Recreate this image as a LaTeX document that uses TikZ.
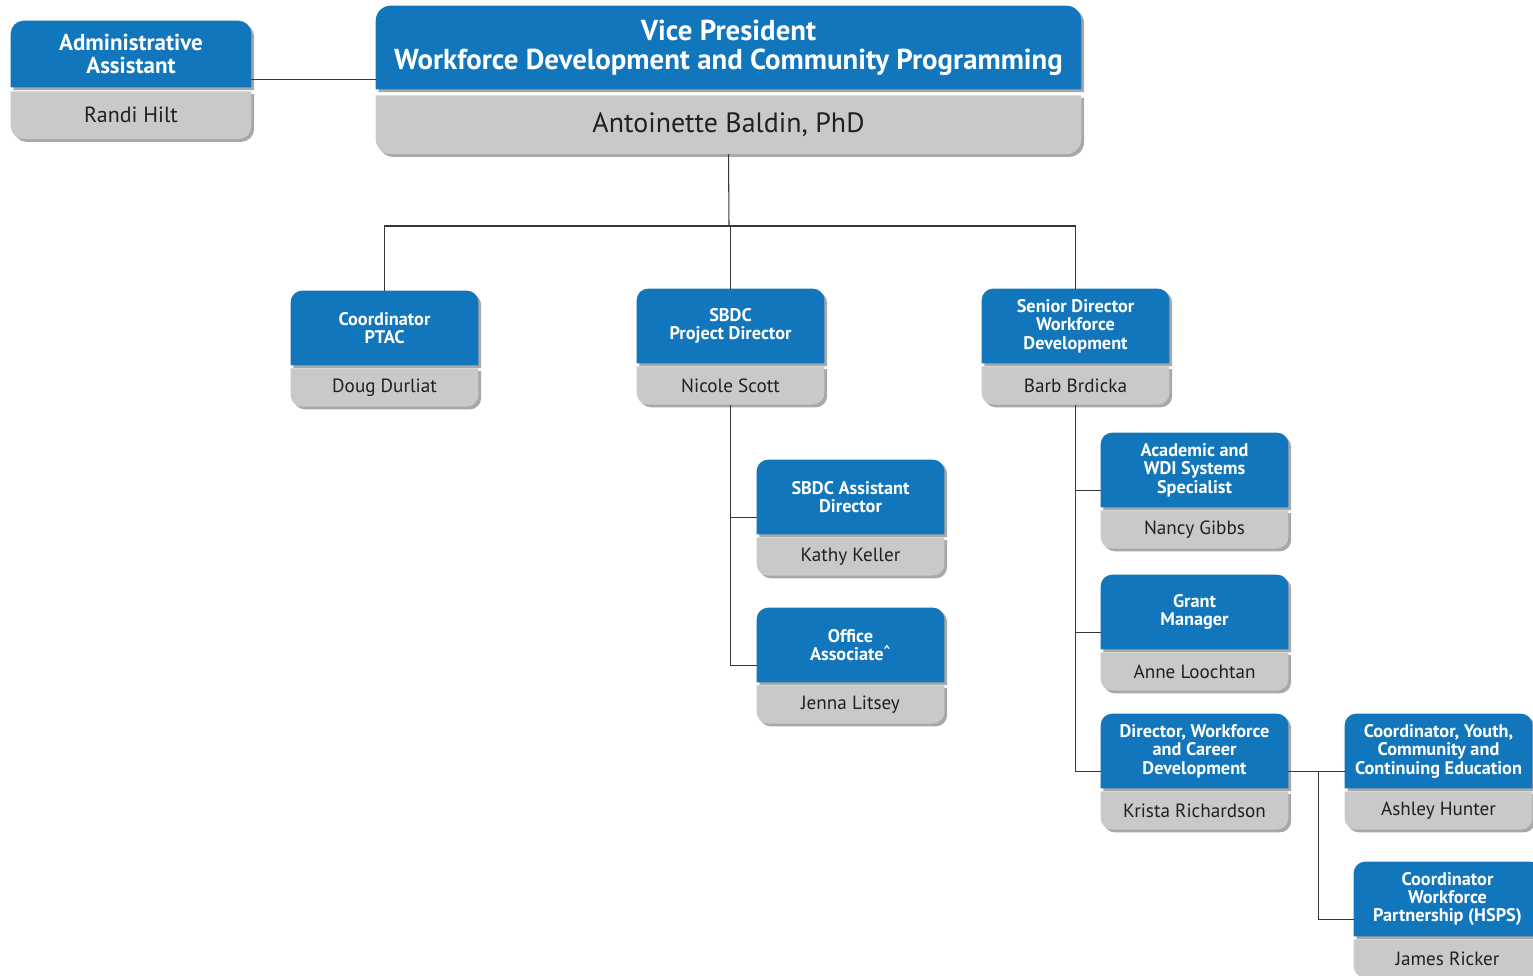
\documentclass[tikz,border=0pt]{standalone}
\usepackage{fontspec}
\setmainfont{PT Sans}
\usepackage{xcolor}
\usetikzlibrary{positioning,calc,backgrounds,shadows}
\definecolor{cardblue}{RGB}{17,118,188}
\definecolor{cardgray}{RGB}{200,201,203}
\definecolor{nametext}{RGB}{35,31,32}
\definecolor{linegray}{RGB}{55,55,55}
\definecolor{shadowgray}{RGB}{110,110,110}
\newcommand\orgcard[3]{%
  \fill[cardblue, drop shadow={shadow xshift=1.6pt, shadow yshift=-1.6pt, fill=shadowgray, opacity=0.6}]
    (#1.south west) -- ([yshift=-#3]#1.north west) arc[start angle=180, end angle=90, radius=#3]
    -- ([xshift=-#3]#1.north east) arc[start angle=90, end angle=0, radius=#3] -- (#1.south east) -- cycle;
  \fill[cardgray, drop shadow={shadow xshift=1.6pt, shadow yshift=-1.6pt, fill=shadowgray, opacity=0.6}]
    (#2.north west) -- (#2.north east) -- ([yshift=#3]#2.south east) arc[start angle=0, end angle=-90, radius=#3]
    -- ([xshift=#3]#2.south west) arc[start angle=270, end angle=180, radius=#3] -- cycle;
}
\tikzset{
  ttl/.style={text=white, font=\bfseries\fontsize{10.4}{10.5}\selectfont, align=center,
    minimum width=3.74cm, minimum height=1.48cm, inner sep=0pt},
  nm/.style={text=nametext, font=\fontsize{10.9}{12}\selectfont,
    minimum width=3.74cm, minimum height=0.75cm, inner sep=0pt},
  conn/.style={draw=linegray, line width=0.6pt}
}

\begin{document}
\begin{tikzpicture}[x=0.02cm, y=0.02cm]
    \useasboundingbox (0,0) rectangle (1533,-975);
    %固定(useasboundingbox)画面大小
    \node[ttl, font=\bfseries\fontsize{16.4}{16.4}\selectfont, minimum width=14.1cm, minimum height=1.66cm] (vp) at (728.5,-47.5) {Vice President\\Workforce Development and Community Programming};
    \node[nm, font=\fontsize{15.9}{18}\selectfont, minimum width=14.1cm, minimum height=1.16cm, below=0.12cm of vp] (vp-nm) {Antoinette Baldin, PhD};
    %副校长(vp)及其姓名(vp-nm)
    \node[ttl, font=\bfseries\fontsize{13.1}{13.6}\selectfont, minimum width=4.8cm, minimum height=1.32cm] (aa) at (131,-54) {Administrative\\Assistant};
    \node[nm, font=\fontsize{12.5}{14}\selectfont, minimum width=4.8cm, minimum height=0.94cm, below=0.08cm of aa] (aa-nm) {Randi Hilt};
    \coordinate (aa-e) at ($(aa.north east)!0.5!(aa-nm.south east)$);
    %助理(aa),右侧连接点(aa-e)
    \foreach \n/\x/\y/\t/\p in {
        ptac/384.5/328/{Coordinator\\PTAC}/{Doug Durliat},
        pd/730.5/326/{SBDC\\Project Director}/{Nicole Scott},
        sd/1075.5/326/{Senior Director\\Workforce\\Development}/{Barb Brdicka},
        ad/850.5/497/{SBDC Assistant\\Director}/{Kathy Keller},
        oa/850.5/645/{Office\\Associate\textsuperscript{\textasciicircum}}/{Jenna Litsey},
        wdi/1194.5/470/{Academic and\\WDI Systems\\Specialist}/{Nancy Gibbs},
        gm/1194.5/612/{Grant\\Manager}/{Anne Loochtan},
        dwcd/1194.5/751/{Director, Workforce\\and Career\\Development}/{Krista Richardson},
        cy/1438.5/751/{Coordinator, Youth,\\Community and\\Continuing Education}/{Ashley Hunter},
        cwp/1447.5/899/{Coordinator\\Workforce\\Partnership (HSPS)}/{James Ricker}}
    {
        \node[ttl] (\n) at (\x,-\y) {\t};
        \node[nm, below=0.06cm of \n] (\n-nm) {\p};
        \coordinate (\n-w) at ($(\n.north west)!0.5!(\n-nm.south west)$);
        \coordinate (\n-e) at ($(\n.north east)!0.5!(\n-nm.south east)$);
    }
    %各职位(\n)、姓名(\n-nm)及左右连接点(\n-w, \n-e)
    \begin{scope}[on background layer]
        \orgcard{vp}{vp-nm}{8.5pt}
        \orgcard{aa}{aa-nm}{7.4pt}
        \foreach \n in {ptac,pd,sd,ad,oa,wdi,gm,dwcd,cy,cwp} {\orgcard{\n}{\n-nm}{6.5pt}}
    \end{scope}
    %背景层(on background layer)绘制蓝色和灰色卡片
    \draw[conn] (aa-e) -- (aa-e -| vp.west);
    \coordinate (bus) at (729,-226);
    \draw[conn] (vp-nm.south) -- (bus);
    \draw[conn] (ptac.north) |- (bus) -| (sd.north);
    \draw[conn] (pd.north) |- (bus);
    %第一层连线
    \draw[conn] (pd-nm.south) |- (oa-w);
    \draw[conn] (ad-w) -| (pd-nm.south);
    \draw[conn] (sd-nm.south) |- (dwcd-w);
    \draw[conn] (wdi-w) -| (sd-nm.south);
    \draw[conn] (gm-w) -| (sd-nm.south);
    \draw[conn] (dwcd-e) -- (cy-w);
    \coordinate (jn) at ($(dwcd-e)!0.53!(cy-w)$);
    \draw[conn] (jn) |- (cwp-w);
    %下层连线
\end{tikzpicture}
\end{document}
